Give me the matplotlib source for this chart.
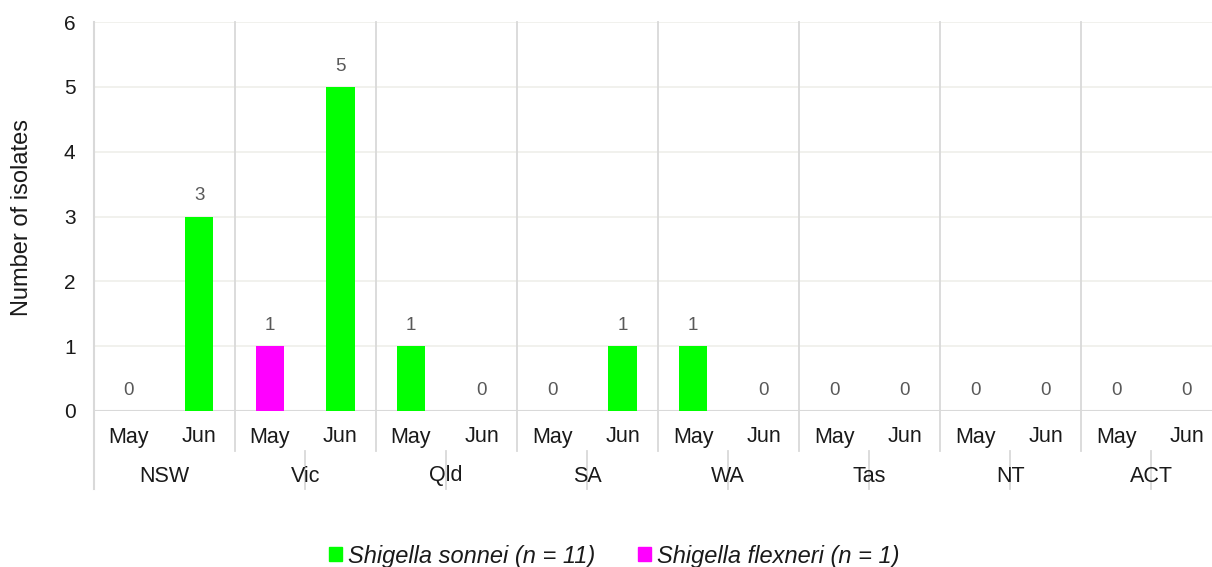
import matplotlib
matplotlib.use("Agg")
import matplotlib.pyplot as plt
from matplotlib.patches import Patch
import numpy as np

plt.rcParams["font.family"] = ["Liberation Sans", "DejaVu Sans"]

# ── Data ──────────────────────────────────────────────────────────────
states = ["NSW", "Vic", "Qld", "SA", "WA", "Tas", "NT", "ACT"]
months = ["May", "Jun"]
sonnei   = [0, 3, 0, 5, 1, 0, 0, 1, 1, 0, 0, 0, 0, 0, 0, 0]
flexneri = [0, 0, 1, 0, 0, 0, 0, 0, 0, 0, 0, 0, 0, 0, 0, 0]
legend_labels = ["Shigella sonnei (n = 11)", "Shigella flexneri (n = 1)"]

green, magenta = "#00FF00", "#FF00FF"
sep_col, grid_col = "#D9D9D9", "#EFEFEA"
txt_col = "#1a1a1a"

fig = plt.figure(figsize=(12.12, 5.67), dpi=100)
# plot area runs slightly past the right edge of the image, as in the reference
ax = fig.add_axes([93.6 / 1212, 156 / 567, (1222 - 93.6) / 1212, 389 / 567])

n = len(sonnei)
x = np.arange(n) + 0.5
totals = np.array(sonnei) + np.array(flexneri)

ax.bar(x, sonnei, width=0.4, color=green, zorder=3)
ax.bar(x, flexneri, width=0.4, bottom=sonnei, color=magenta, zorder=3)

for xi, t in zip(x, totals):
    ax.annotate(str(t), (xi, t), xytext=(0, 15), textcoords="offset points",
                ha="center", va="center", fontsize=13.5, color="#595959")

ax.set_xlim(0, n)
ax.set_ylim(0, 6)
ax.set_yticks(range(7))
ax.tick_params(axis="y", length=0, pad=13, labelsize=15, labelcolor=txt_col)
ax.set_xticks([])
for s in ax.spines.values():
    s.set_visible(False)
for yv in range(1, 7):
    ax.axhline(yv, color=grid_col, lw=1.2, zorder=1)
ax.axhline(0, color=sep_col, lw=1.5, zorder=2)

trans = ax.get_xaxis_transform()
low1 = (411 - 451) / 389
low2 = (411 - 489) / 389
# left axis line
ax.plot([0, 0], [1, low2], transform=trans, color=sep_col, lw=1.5, clip_on=False)
# group separators through plot and month row
for g in range(1, len(states)):
    ax.plot([2 * g, 2 * g], [1, low1], transform=trans, color=sep_col, lw=1.3,
            clip_on=False, zorder=1)
# separators in the state row (offset as in the original)
for g in range(1, len(states)):
    ax.plot([2 * g + 1, 2 * g + 1], [low1, low2], transform=trans, color=sep_col,
            lw=1.3, clip_on=False)

for i, xi in enumerate(x):
    ax.text(xi, (411 - 437) / 389, months[i % 2], transform=trans,
            ha="center", va="center", fontsize=15.5, color=txt_col)
for g, st in enumerate(states):
    ax.text(2 * g + 1, (411 - 476) / 389, st, transform=trans,
            ha="center", va="center", fontsize=15.5, color=txt_col)

fig.text(22 / 1212, 1 - 218 / 567, "Number of isolates", rotation=90,
         ha="center", va="center", fontsize=17, color=txt_col)

handles = [Patch(color=green), Patch(color=magenta)]
leg = fig.legend(handles, legend_labels, loc="center", ncol=2,
                 bbox_to_anchor=(614 / 1212, 1 - 556 / 567), frameon=False,
                 handlelength=0.55, handleheight=0.55, handletextpad=0.25,
                 columnspacing=1.8, borderpad=0,
                 prop={"size": 17, "style": "italic"})
for t in leg.get_texts():
    t.set_color(txt_col)

fig.savefig("out.png", dpi=100)
